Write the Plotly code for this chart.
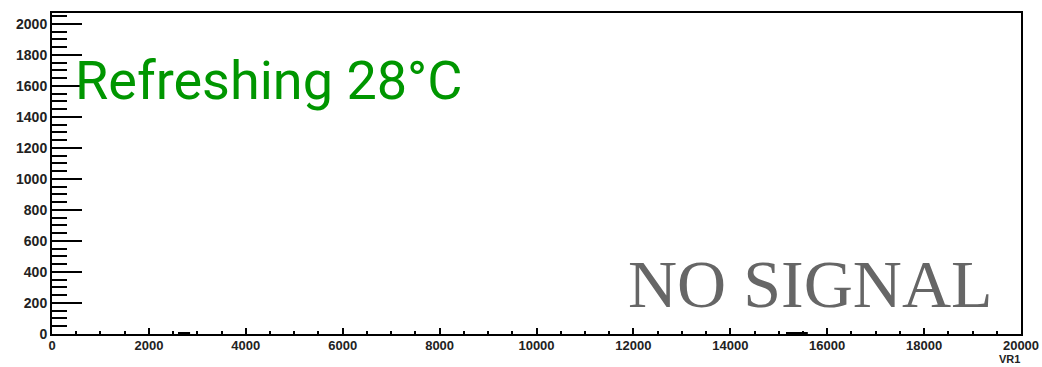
import plotly.graph_objects as go

# Histogram content (VR1): bin edges and counts
bin_lo = [2600, 15150]
bin_hi = [2850, 15600]
counts = [10, 10]

x_range = [0, 20000]
y_range = [0, 2070]
x_ticks = [0, 2000, 4000, 6000, 8000, 10000, 12000, 14000, 16000, 18000, 20000]
y_ticks = [0, 200, 400, 600, 800, 1000, 1200, 1400, 1600, 1800, 2000]

status_text = "Refreshing 28°C"
signal_text = "NO SIGNAL"
axis_label = "VR1"

centers = [(a + b) / 2 for a, b in zip(bin_lo, bin_hi)]
widths = [b - a for a, b in zip(bin_lo, bin_hi)]

fig = go.Figure()
fig.add_trace(go.Bar(x=centers, y=counts, width=widths,
                     marker=dict(color="black", line=dict(width=0)),
                     showlegend=False, hoverinfo="skip"))

ytickfont = dict(family="Liberation Sans, Arial, sans-serif", size=14, color="#222222", weight="bold")
xtickfont = dict(family="Liberation Sans, Arial, sans-serif", size=13, color="#222222", weight="bold")

fig.update_layout(
    width=1042, height=367,
    margin=dict(l=52, r=21, t=13, b=33, pad=0, autoexpand=False),
    paper_bgcolor="white", plot_bgcolor="white",
    showlegend=False,
    xaxis=dict(range=x_range, tickvals=x_ticks, ticktext=[str(v) for v in x_ticks],
               ticks="inside", ticklen=6, tickwidth=2, tickcolor="black",
               minor=dict(ticks="inside", ticklen=3, tickwidth=2, tickcolor="black", dtick=500, showgrid=False),
               showline=True, linewidth=2, linecolor="black", mirror=True, automargin=False,
               ticklabelstandoff=-2,
               showgrid=False, zeroline=False, tickfont=xtickfont, fixedrange=True),
    yaxis=dict(range=y_range, tickvals=y_ticks, ticktext=[str(v) for v in y_ticks],
               ticks="inside", ticklen=30, tickwidth=2, tickcolor="black",
               minor=dict(ticks="inside", ticklen=15, tickwidth=2, tickcolor="black", dtick=50, tick0=0, showgrid=False),
               showline=True, linewidth=2, linecolor="black", mirror=True, automargin=False,
               showgrid=False, zeroline=False, tickfont=ytickfont, fixedrange=True),
    annotations=[
        dict(text=status_text, xref="paper", yref="paper", x=0.022, y=0.791,
             xanchor="left", yanchor="middle", showarrow=False,
             font=dict(family="Roboto, sans-serif", size=54, color="#009600")),
        dict(text=signal_text, xref="paper", yref="paper", x=0.973, y=0.156,
             xanchor="right", yanchor="middle", showarrow=False,
             font=dict(family="Liberation Serif, serif", size=68, color="#666666")),
        dict(text=axis_label, xref="paper", yref="paper", x=1.0, y=-0.1,
             xanchor="right", yanchor="bottom", showarrow=False, borderpad=0,
             font=dict(family="Liberation Sans, Arial, sans-serif", size=11, color="#222222", weight="bold")),
    ],
)

fig.write_html("out.html")
